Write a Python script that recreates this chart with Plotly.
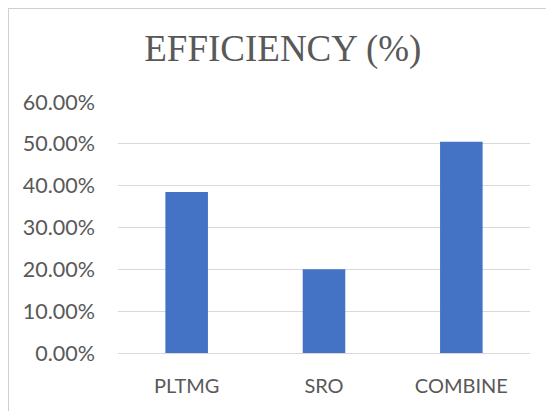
import plotly.graph_objects as go

categories = ["PLTMG", "SRO", "COMBINE"]
efficiency = [0.385, 0.20, 0.505]
y_ticks = [0, 0.1, 0.2, 0.3, 0.4, 0.5, 0.6]
y_tick_labels = ["0.00%", "10.00%", "20.00%", "30.00%", "40.00%", "50.00%", "60.00%"]

L, R, T, B = 110, 32, 94, 66
W, H = 554, 411
pw, ph = W - L - R, H - T - B

fig = go.Figure(go.Bar(x=categories, y=efficiency, marker_color="#4472C4",
                       marker_line_width=0, width=0.31))

fig.update_layout(
    width=W, height=H,
    margin=dict(l=L, r=R, t=T, b=B),
    paper_bgcolor="white", plot_bgcolor="white",
    title=dict(text="EFFICIENCY (%)", x=0.496, xanchor="center", y=0.903, yanchor="middle",
               font=dict(family="Liberation Serif, Times New Roman, serif", size=37, color="#595959")),
    showlegend=False,
)
fig.update_yaxes(range=[0, 0.6], tickvals=y_ticks, ticktext=y_tick_labels,
                 showgrid=True, gridcolor="#D9D9D9", gridwidth=1, zeroline=False,
                 showline=False, ticks="", ticklabelstandoff=22,
                 tickfont=dict(family="Lato, Carlito, sans-serif", size=21.5, color="#595959"))
fig.update_xaxes(showgrid=False, showline=True, linecolor="#D9D9D9", linewidth=1, ticks="",
                 ticklabelstandoff=15,
                 tickfont=dict(family="Lato, Carlito, sans-serif", size=20, color="#595959"))

# screenshot window border lines (top and left)
x_left = (0 - L) / pw
y_top = (H - B - 0) / ph
fig.add_shape(type="line", xref="paper", yref="paper", x0=x_left, x1=(W - L) / pw, y0=y_top, y1=y_top,
              line=dict(color="#D0D0D0", width=2))
fig.add_shape(type="line", xref="paper", yref="paper", x0=x_left, x1=x_left, y0=-B / ph, y1=y_top,
              line=dict(color="#D0D0D0", width=2))

fig.write_html("out.html")
